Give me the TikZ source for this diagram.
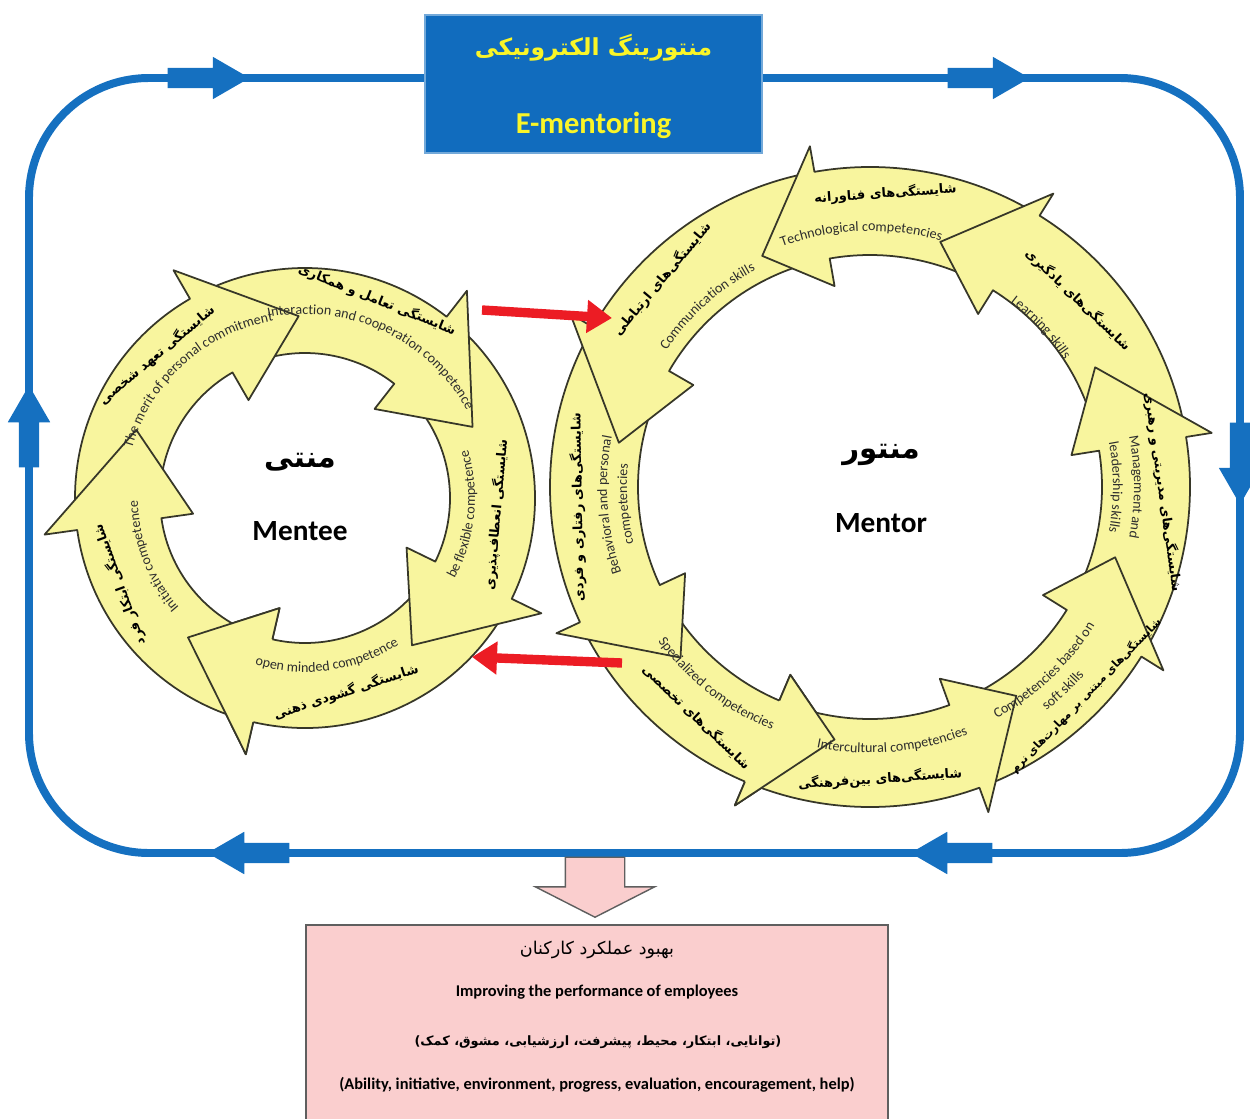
\documentclass[tikz,border=0pt]{standalone}
\usepackage{fontspec}
\setmainfont{Carlito}
\newfontfamily\farsifont[Script=Arabic]{DejaVu Sans}
\TeXXeTstate=1
\usetikzlibrary{calc,positioning,arrows.meta,shapes.arrows,decorations.text}

\definecolor{frameblue}{RGB}{21,112,192}
\definecolor{titleblue}{RGB}{17,108,190}
\definecolor{titleyellow}{RGB}{250,245,40}
\definecolor{ringyellow}{RGB}{248,245,158}
\definecolor{ringline}{RGB}{55,55,40}
\definecolor{linkred}{RGB}{236,28,36}
\definecolor{perfpink}{RGB}{250,206,206}
\definecolor{perfline}{RGB}{95,95,95}
\definecolor{labelgray}{RGB}{45,45,45}

\newcommand{\fatext}[1]{{\farsifont\beginR #1\endR}}
\newcommand{\enlabelfont}{\fontsize{12}{12}\selectfont\color{labelgray}}

% one curved arrow of a ring: centre, tail angle, base angle, tip angle
\newcommand{\ringarrow}[4]{%
  \filldraw[ringarrow] ($(#1)+(#2:\ringro)$) arc[start angle=#2, end angle=#3, radius=\ringro]
    -- ($(#1)+({#3}:{\ringro+\headout})$) -- ($(#1)+(#4:\tipr)$)
    -- ($(#1)+({#3}:{\ringri-\headin})$) -- ($(#1)+(#3:\ringri)$)
    arc[start angle=#3, end angle=#2, radius=\ringri] -- cycle;}
% head only, drawn again over the first tail
\newcommand{\ringhead}[3]{%
  \fill[ringyellow] ($(#1)+({#2}:{\ringro+\headout})$) -- ($(#1)+(#3:\tipr)$)
    -- ($(#1)+({#2}:{\ringri-\headin})$) -- cycle;
  \draw[ringarrow, fill=none] ($(#1)+(#2:\ringro)$) -- ($(#1)+({#2}:{\ringro+\headout})$)
    -- ($(#1)+(#3:\tipr)$) -- ($(#1)+({#2}:{\ringri-\headin})$) -- ($(#1)+(#2:\ringri)$);}
% english label along a ring: centre, start angle, end angle, radius, text
\newcommand{\arclabel}[5]{%
  \path[decorate, decoration={text along path, text align=center, text={|\enlabelfont|#5}}]
    ($(#1)+(#2:#4)$) arc[start angle=#2, end angle=#3, radius=#4];}

\begin{document}
\begin{tikzpicture}[x=0.03cm, y=0.03cm,
    frameline/.style={draw=frameblue, line width=6.8pt, rounded corners=3.6cm},
    flowarrow/.style={single arrow, fill=frameblue, inner xsep=0pt, inner ysep=0.3cm,
        single arrow head extend=0.33cm, single arrow tip angle=60,
        minimum height=2.46cm, minimum width=0cm, anchor=tip},
    titlebox/.style={rectangle, fill=titleblue, draw=frameblue!60!white, line width=1.5pt,
        minimum width=10.11cm, minimum height=4.14cm},
    titletext/.style={text=titleyellow, font=\fontsize{26}{26}\selectfont\bfseries},
    ringarrow/.style={fill=ringyellow, draw=ringline, line width=1.5pt, line join=round},
    falabel/.style={font=\fontsize{11}{11}\selectfont\bfseries, text=black, inner sep=0pt},
    centretext/.style={font=\fontsize{25}{25}\selectfont\bfseries, text=black},
    redlink/.style={draw=linkred, line width=8pt, -{Triangle[length=0.75cm, width=0.95cm]}},
    downarrow/.style={single arrow, fill=perfpink, draw=perfline, line width=1.2pt,
        inner xsep=0pt, inner ysep=0.87cm, single arrow head extend=0.9cm,
        single arrow tip angle=126, minimum height=1.8cm, minimum width=0cm,
        rotate=-90, anchor=tip},
    perfbox/.style={rectangle, fill=perfpink, draw=perfline, line width=1.2pt,
        minimum width=17.46cm, minimum height=6cm},
    perffa/.style={font=\fontsize{15}{15}\selectfont, text=black},
    perfen/.style={font=\fontsize{14}{14}\selectfont\bfseries, text=black}]

    \useasboundingbox (0,0) rectangle (1250,-1119);

    % e-mentoring loop
    \draw[frameline] (29,-78) rectangle (1240,-853);
    \node[flowarrow] (flowTL) at (250,-78) {};
    \node[flowarrow] (flowTR) at (1030,-78) {};
    \node[flowarrow, rotate=-90] (flowR) at (1240,-505) {};
    \node[flowarrow, rotate=180] (flowBR) at (910,-853) {};
    \node[flowarrow, rotate=180] (flowBL) at (207,-853) {};
    \node[flowarrow, rotate=90] (flowL) at (29,-385) {};

    \node[titlebox] (title) at (593.5,-84) {};
    \node[titletext, font=\fontsize{20}{20}\selectfont\bfseries] (titleFa)
        at ([yshift=1.08cm]title.center) {\fatext{منتورینگ الکترونیکی}};
    \node[titletext] (titleEn) at ([yshift=-1.23cm]title.center) {E-mentoring};

    \coordinate (menteeC) at (305,-498);
    \coordinate (mentorC) at (870,-487);

    % mentee ring, clockwise
    \def\ringri{145}\def\ringro{230}\def\headout{33}\def\headin{32}\def\tipr{182}
    \ringarrow{menteeC}{-29}{-103}{-130}
    \ringarrow{menteeC}{49}{-26}{-54}
    \ringarrow{menteeC}{117}{52}{23}
    \ringarrow{menteeC}{185}{120}{92}
    \ringarrow{menteeC}{254}{188}{158}
    \ringhead{menteeC}{-103}{-130}

    % mentor ring, counter clockwise
    \def\ringri{232}\def\ringro{320}\def\headout{26}\def\headin{28}\def\tipr{255}
    \ringarrow{mentorC}{568}{607}{622}
    \ringarrow{mentorC}{513}{565}{582}
    \ringarrow{mentorC}{463}{510}{530}
    \ringarrow{mentorC}{421}{460}{475}
    \ringarrow{mentorC}{372}{418}{434}
    \ringarrow{mentorC}{331}{369}{388}
    \ringarrow{mentorC}{293}{328}{344}
    \ringarrow{mentorC}{250}{290}{305}
    \ringhead{mentorC}{607}{622}

    % mentee competences
    \node[falabel, rotate=40] (commitFa) at ($(menteeC)+(136:206)$) {\fatext{شایستگی تعهد شخصی}};
    \node[falabel, rotate=-22] (interFa) at ($(menteeC)+(70:211)$) {\fatext{شایستگی تعامل و همکاری}};
    \node[falabel, rotate=85] (flexFa) at ($(menteeC)+(-5:192)$) {\fatext{شایستگی انعطاف‌پذیری}};
    \node[falabel, rotate=18] (openFa) at ($(menteeC)+(-78:198)$) {\fatext{شایستگی گشودی ذهنی}};
    \node[falabel, rotate=110] (initFa) at ($(menteeC)+(205:205)$) {\fatext{شایستگی ابتکار فرد}};
    \arclabel{menteeC}{182}{82}{180}{The merit of personal commitment}
    \arclabel{menteeC}{118}{12}{184}{Interaction and cooperation competence}
    \arclabel{menteeC}{-40}{28}{170}{be flexible competence}
    \arclabel{menteeC}{-118}{-46}{174}{open minded competence}
    \arclabel{menteeC}{232}{170}{167}{Initiativ competence}

    % mentor competences
    \node[falabel, rotate=4] (techFa) at ($(mentorC)+(87:294)$) {\fatext{شایستگی‌های فناورانه}};
    \node[falabel, rotate=-44] (learnFa) at ($(mentorC)+(42:280)$) {\fatext{شایستگی‌های یادگیری}};
    \node[falabel, rotate=-82] (manageFa) at ($(mentorC)+(-1:293)$) {\fatext{شایستگی‌های مدیریتی و رهبری}};
    \node[falabel, font=\fontsize{9.5}{9.5}\selectfont\bfseries, rotate=46] (softFa)
        at ($(mentorC)+(316:300)$) {\fatext{شایستگی‌های مبتنی بر مهارت‌های نرم}};
    \node[falabel, rotate=4] (cultureFa) at ($(mentorC)+(272:292)$) {\fatext{شایستگی‌های بین‌فرهنگی}};
    \node[falabel, rotate=-44] (specialFa) at ($(mentorC)+(233:288)$) {\fatext{شایستگی‌های تخصصی}};
    \node[falabel, rotate=91] (behaveFa) at ($(mentorC)+(184:293)$) {\fatext{شایستگی‌های رفتاری و فردی}};
    \node[falabel, rotate=50] (commFa) at ($(mentorC)+(135:294)$) {\fatext{شایستگی‌های ارتباطی}};
    \arclabel{mentorC}{124}{60}{256}{Technological competencies}
    \arclabel{mentorC}{72}{14}{232}{Learning skills}
    \arclabel{mentorC}{38}{-38}{264}{Management and}
    \arclabel{mentorC}{38}{-38}{243}{leadership skills}
    \arclabel{mentorC}{280}{347}{264}{Competencies based on}
    \arclabel{mentorC}{290}{337}{285}{soft skills}
    \arclabel{mentorC}{240}{310}{266}{Intercultural competencies}
    \arclabel{mentorC}{198}{266}{262}{Specialized competencies}
    \arclabel{mentorC}{220}{148}{263}{Behavioral and personal}
    \arclabel{mentorC}{220}{148}{243}{competencies}
    \arclabel{mentorC}{166}{98}{245}{Communication skills}

    \node[centretext] (mentee) at (300,-531) {Mentee};
    \node[centretext] (menteeFa) at (300,-462) {\fatext{منتی}};
    \node[centretext] (mentor) at (881,-523) {Mentor};
    \node[centretext] (mentorFa) at (881,-455) {\fatext{منتور}};

    % links between the rings
    \coordinate (linkAfrom) at (482,-310);
    \coordinate (linkAto) at (612,-318);
    \coordinate (linkBfrom) at (622,-663);
    \coordinate (linkBto) at (472,-657);
    \draw[redlink] (linkAfrom) -- (linkAto);
    \draw[redlink] (linkBfrom) -- (linkBto);

    % outcome
    \node[downarrow] (down) at (595,-918) {};
    \node[perfbox] (perf) at (597,-1025) {};
    \node[perffa] (perfFa) at (597,-950) {\fatext{بهبود عملکرد کارکنان}};
    \node[perfen] (perfEn) at (597,-992) {Improving the performance of employees};
    \node[perfen, font=\fontsize{11}{11}\selectfont\bfseries] (itemsFa) at (598,-1042)
        {\fatext{(توانایی، ابتکار، محیط، پیشرفت، ارزشیابی، مشوق، کمک)}};
    \node[perfen] (itemsEn) at (597,-1085)
        {(Ability, initiative, environment, progress, evaluation, encouragement, help)};
\end{tikzpicture}
\end{document}
